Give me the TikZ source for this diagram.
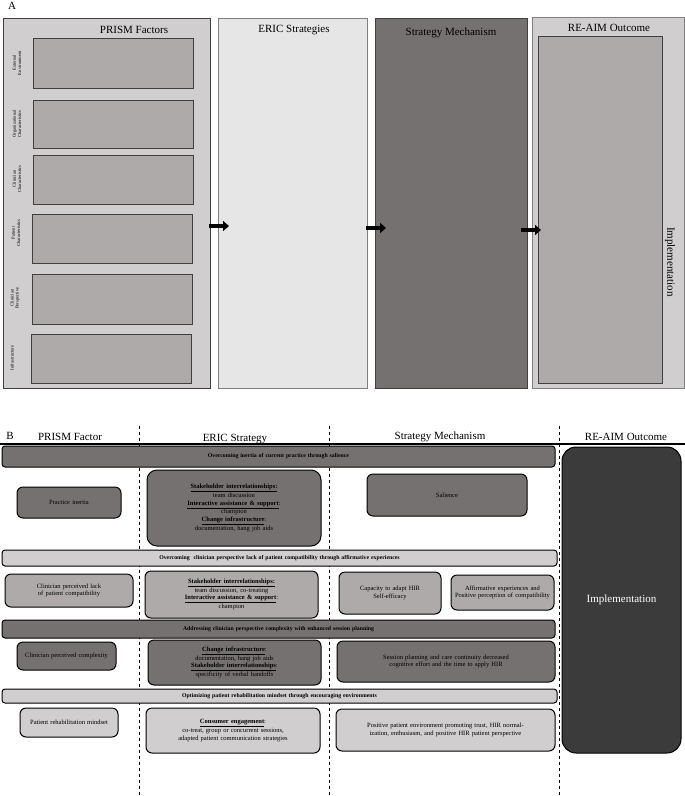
\documentclass[tikz,border=0pt]{standalone}
\usepackage{fontspec}
\setmainfont{Liberation Serif}
\usetikzlibrary{arrows.meta}
\definecolor{dk}{HTML}{757170}
\definecolor{md}{HTML}{AEAAAA}
\definecolor{lt}{HTML}{D0CECE}
\definecolor{vl}{HTML}{E6E6E6}
\definecolor{im}{HTML}{3B3B3B}
\newcommand\bx[7]{%
 \pgfmathsetmacro\bxcx{(#2+#4)/2}\pgfmathsetmacro\bxcy{(#3+#5)/2}%
 \pgfmathsetmacro\bxw{#4-#2}\pgfmathsetmacro\bxh{#5-#3}\pgfmathsetmacro\bxt{#4-#2-8}%
 \node[#6,minimum width=\bxw pt,minimum height=\bxh pt,text width=\bxt pt] (#1) at (\bxcx,\bxcy) {#7};}
\begin{document}
\begin{tikzpicture}[x=1pt,y=-1pt,
 sq/.style={draw=black!75,line width=0.6pt,inner sep=0pt,align=center},
 rb/.style={draw=black,line width=1pt,rounded corners=6pt,inner sep=0pt,align=center,font=\fontsize{6.5}{7.5}\selectfont},
 band/.style={rb,rounded corners=3pt,font=\bfseries\fontsize{5.8}{7}\selectfont},
 side/.style={rotate=90,align=center,font=\fontsize{4.6}{5.2}\selectfont,inner sep=0pt},
 ttl/.style={font=\fontsize{11}{12}\selectfont,inner sep=0pt},
 blk/.style={line width=4.5pt,-{Triangle[length=6pt,width=10pt]}},
 dsh/.style={dashed,line width=0.8pt}]
\useasboundingbox (0,0) rectangle (685,796);
% ---------- A
\node[font=\fontsize{11}{12}\selectfont] (la) at (12,6) {A};
\bx{prism}{3}{18}{210}{388}{sq,fill=lt}{}
\node[ttl] (tprism) at (134,30) {PRISM Factors};
\bx{p1}{33}{38}{193}{88}{sq,fill=md}{}
\bx{p2}{33}{100}{193}{148}{sq,fill=md}{}
\bx{p3}{33}{155}{193}{204}{sq,fill=md}{}
\bx{p4}{32}{214}{192}{263}{sq,fill=md}{}
\bx{p5}{32}{274}{192}{324}{sq,fill=md}{}
\bx{p6}{31}{334}{191}{383}{sq,fill=md}{}
\node[side] (s1) at (17,63) {External\\Environment};
\node[side] (s2) at (17,124) {Organizational\\Characteristics};
\node[side] (s3) at (17,179) {Clinician\\Characteristics};
\node[side] (s4) at (16,233) {Patient\\Characteristics};
\node[side] (s5) at (15,298) {Clinician\\Perspective};
\node[side] (s6) at (12,358) {Infrastructure};
\bx{eric}{218}{18}{367}{388}{sq,fill=vl,draw=black!50}{}
\node[ttl] (teric) at (294,30) {ERIC Strategies};
\bx{mech}{375}{18}{527}{388}{sq,fill=dk}{}
\node[ttl] (tmech) at (451,33) {Strategy Mechanism};
\bx{reaim}{532}{17}{684}{388}{sq,fill=lt,draw=black!50}{}
\bx{reinner}{538}{36}{662}{383}{sq,fill=md}{}
\node[ttl] (tre) at (609,28) {RE-AIM Outcome};
\node[ttl,rotate=-90] (timp) at (670,262) {Implementation};
\coordinate (a1s) at (209,226); \coordinate (a1e) at (229,226);
\coordinate (a2s) at (366,228); \coordinate (a2e) at (386,228);
\coordinate (a3s) at (521,230); \coordinate (a3e) at (541,230);
\draw[blk] (a1s) -- (a1e);
\draw[blk] (a2s) -- (a2e);
\draw[blk] (a3s) -- (a3e);
% ---------- B
\node[font=\fontsize{11}{12}\selectfont] (lb) at (10,436) {B};
\node[ttl] (h1) at (70,437) {PRISM Factor};
\node[ttl] (h2) at (235,439) {ERIC Strategy};
\node[ttl] (h3) at (440,437) {Strategy Mechanism};
\node[ttl] (h4) at (626,437) {RE-AIM Outcome};
\coordinate (hl0) at (0,444); \coordinate (hl1) at (685,444);
\draw[line width=1.2pt] (hl0) -- (hl1);
\coordinate (d1a) at (139,426); \coordinate (d1b) at (139,796);
\coordinate (d2a) at (329,426); \coordinate (d2b) at (329,796);
\coordinate (d3a) at (559,426); \coordinate (d3b) at (559,796);
\draw[dsh] (d1a) -- (d1b);
\draw[dsh] (d2a) -- (d2b);
\draw[dsh] (d3a) -- (d3b);
\bx{impl}{562}{447}{681}{753}{rb,rounded corners=14pt,fill=im,text=white,font=\fontsize{11}{12}\selectfont}{Implementation}
% row 1
\bx{b1}{2}{446}{555}{467}{band,fill=dk}{Overcoming inertia of current practice through salience}
\bx{r1a}{17}{487}{121}{518}{rb,fill=dk}{Practice inertia}
\bx{r1b}{147}{470}{321}{546}{rb,fill=dk,rounded corners=10pt}{\textbf{\underline{Stakeholder interrelationships:}}\\team discussion\\\textbf{\underline{Interactive assistance \& support}}:\\champion\\\textbf{\underline{Change infrastructure}}:\\documentation, hang job aids}
\bx{r1c}{367}{474}{527}{516}{rb,fill=dk}{Salience}
% row 2
\bx{b2}{2}{550}{557}{566}{band,fill=lt}{Overcoming\ \ clinician perspective lack of patient compatibility through affirmative experiences}
\bx{r2a}{5}{574}{133}{607}{rb,fill=md}{Clinician perceived lack of patient compatibility}
\bx{r2b}{145}{571}{318}{618}{rb,fill=md}{\textbf{\underline{Stakeholder interrelationships:}}\\team discussion, co-treating\\\textbf{\underline{Interactive assistance \& support}}:\\champion}
\bx{r2c}{339}{572}{441}{614}{rb,fill=md}{Capacity to adapt HIR\\Self-efficacy}
\bx{r2d}{451}{575}{554}{610}{rb,fill=md}{Affirmative experiences and Positive perception of compatibility}
% row 3
\bx{b3}{2}{620}{555}{638}{band,fill=dk}{Addressing clinician perspective complexity with enhanced session planning}
\bx{r3a}{17}{642}{116}{670}{rb,fill=dk}{Clinician perceived complexity}
\bx{r3b}{148}{640}{321}{685}{rb,fill=dk}{\textbf{\underline{Change infrastructure}}:\\documentation, hang job aids\\\textbf{\underline{Stakeholder interrelationships}}:\\specificity of verbal handoffs}
\bx{r3c}{337}{641}{555}{682}{rb,fill=dk}{Session planning and care continuity decreased cognitive effort and the time to apply HIR}
% row 4
\bx{b4}{2}{689}{557}{703}{band,fill=lt}{Optimizing patient rehabilitation mindset through encouraging environments}
\bx{r4a}{20}{708}{118}{737}{rb,fill=lt}{Patient rehabilitation mindset}
\bx{r4b}{146}{708}{320}{753}{rb,fill=lt}{\textbf{\underline{Consumer engagement}}:\\co-treat, group or concurrent sessions, adapted patient communication strategies}
\bx{r4c}{336}{709}{555}{751}{rb,fill=lt}{Positive patient environment promoting trust, HIR normalization, enthusiasm, and positive HIR patient perspective}
\end{tikzpicture}
\end{document}
